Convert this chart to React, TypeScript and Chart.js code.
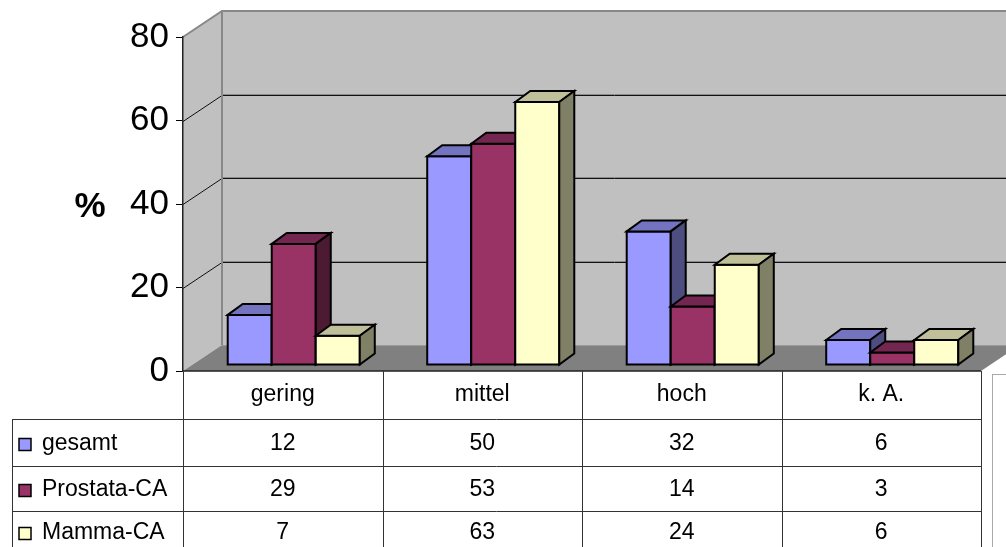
import React, { useEffect, useRef } from 'react';
import { Chart, registerables } from 'chart.js';

Chart.register(...registerables);

// ---- data ----
const categories = ['gering', 'mittel', 'hoch', 'k. A.'];
const seriesNames = ['gesamt', 'Prostata-CA', 'Mamma-CA'];
const gesamt = [12, 50, 32, 6];
const prostata = [29, 53, 14, 3];
const mamma = [7, 63, 24, 6];
const yTicks = [0, 20, 40, 60, 80];
const axisTitle = '%';

// ---- styles ----
const FRONT = ['#9999FF', '#993366', '#FFFFCC'];
const TOP = ['#7373BF', '#732650', '#BFBF99'];
const SIDE = ['#4D4D80', '#4D1A33', '#808066'];
const FONT = '"Liberation Sans", Arial, sans-serif';
const WALL = { dx: 39, dy: -26 };
const BAR_OFF = { dx: 11, dy: -6 };
const BAR_DEPTH = { dx: 15, dy: -11 };
const TABLE_LEFT = 12;
const ROW_BOUNDS = [419, 466, 511, 552];
const TABLE_BOTTOM = 560;

type P = [number, number];

function poly(ctx: CanvasRenderingContext2D, pts: P[]) {
  ctx.beginPath();
  ctx.moveTo(pts[0][0], pts[0][1]);
  for (let i = 1; i < pts.length; i++) ctx.lineTo(pts[i][0], pts[i][1]);
  ctx.closePath();
}

const threeDPlugin = {
  id: 'threeD',
  beforeDraw(chart: any) {
    const { ctx, chartArea: ca, scales } = chart;
    const y = scales.y;
    const x0 = ca.left;
    const x1 = ca.right;
    const yb = y.getPixelForValue(yTicks[0]);
    const yt = y.getPixelForValue(yTicks[yTicks.length - 1]);
    const { dx, dy } = WALL;
    ctx.save();
    // side wall
    ctx.fillStyle = '#C0C0C0';
    poly(ctx, [[x0, yb], [x0, yt], [x0 + dx, yt + dy], [x0 + dx, yb + dy]]);
    ctx.fill();
    // back wall
    ctx.fillRect(x0 + dx, yt + dy, x1 - x0, yb - yt);
    // floor
    ctx.fillStyle = '#808080';
    poly(ctx, [[x0, yb], [x1, yb], [x1 + dx, yb + dy], [x0 + dx, yb + dy]]);
    ctx.fill();
    // gridlines
    ctx.lineWidth = 1;
    for (const v of yTicks.slice(1, -1)) {
      const py = Math.round(y.getPixelForValue(v)) + 0.5;
      ctx.strokeStyle = '#8a8a8a';
      ctx.beginPath();
      ctx.moveTo(x0 + dx, py + dy - 1);
      ctx.lineTo(x1 + dx, py + dy - 1);
      ctx.stroke();
      ctx.strokeStyle = '#111';
      ctx.beginPath();
      ctx.moveTo(x0, py);
      ctx.lineTo(x0 + dx, py + dy);
      ctx.lineTo(x1 + dx, py + dy);
      ctx.stroke();
    }
    // wall borders
    ctx.strokeStyle = '#888';
    ctx.lineWidth = 2;
    ctx.beginPath();
    ctx.moveTo(x0, yt);
    ctx.lineTo(x0 + dx, yt + dy);
    ctx.lineTo(x1 + dx, yt + dy);
    ctx.moveTo(x0 + dx, yt + dy);
    ctx.lineTo(x0 + dx, yb + dy);
    ctx.stroke();
    ctx.strokeStyle = '#9a9a9a';
    ctx.lineWidth = 1;
    ctx.beginPath();
    ctx.moveTo(x0 + dx, yb + dy + 0.5);
    ctx.lineTo(x1 + dx, yb + dy + 0.5);
    ctx.stroke();
    ctx.restore();
  },
  beforeDatasetsDraw(chart: any) {
    const { ctx } = chart;
    const n = categories.length;
    ctx.save();
    ctx.lineWidth = 2;
    ctx.lineJoin = 'miter';
    ctx.strokeStyle = '#000';
    const { dx: ox, dy: oy } = BAR_OFF;
    const { dx, dy } = BAR_DEPTH;
    for (let i = 0; i < n; i++) {
      chart.data.datasets.forEach((_ds: any, di: number) => {
        const meta = chart.getDatasetMeta(di);
        const el = meta.data[i];
        if (!el) return;
        const p = el.getProps(['x', 'y', 'base', 'width'], true);
        const L = p.x - p.width / 2 + ox;
        const R = p.x + p.width / 2 + ox;
        const T = p.y + oy;
        const B = p.base + oy;
        // front
        ctx.fillStyle = FRONT[di];
        poly(ctx, [[L, B], [L, T], [R, T], [R, B]]);
        ctx.fill();
        ctx.stroke();
        // top
        ctx.fillStyle = TOP[di];
        poly(ctx, [[L, T], [L + dx, T + dy], [R + dx, T + dy], [R, T]]);
        ctx.fill();
        ctx.stroke();
        // side
        ctx.fillStyle = SIDE[di];
        poly(ctx, [[R, T], [R + dx, T + dy], [R + dx, B + dy], [R, B]]);
        ctx.fill();
        ctx.stroke();
      });
    }
    ctx.restore();
    return false;
  },
  afterDraw(chart: any) {
    const { ctx, chartArea: ca, scales } = chart;
    const x = scales.x;
    const y = scales.y;
    const yb = y.getPixelForValue(0);
    const catW = (ca.right - ca.left) / categories.length;
    ctx.save();
    // % title
    ctx.fillStyle = '#000';
    ctx.font = `bold 35px ${FONT}`;
    ctx.textAlign = 'center';
    ctx.textBaseline = 'middle';
    ctx.fillText(axisTitle, 90, y.getPixelForValue(40) + 3);

    // front axis line
    ctx.strokeStyle = '#222';
    ctx.lineWidth = 1.5;
    ctx.beginPath();
    ctx.moveTo(ca.left, yb);
    ctx.lineTo(ca.right, yb);
    ctx.stroke();

    // table grid
    ctx.strokeStyle = '#333';
    ctx.lineWidth = 1;
    ctx.beginPath();
    for (let i = 0; i <= categories.length; i++) {
      const vx = Math.round(ca.left + i * catW) + 0.5;
      ctx.moveTo(vx, yb);
      ctx.lineTo(vx, TABLE_BOTTOM);
    }
    ctx.moveTo(TABLE_LEFT + 0.5, ROW_BOUNDS[0]);
    ctx.lineTo(TABLE_LEFT + 0.5, TABLE_BOTTOM);
    for (let r = 0; r < ROW_BOUNDS.length - 1; r++) {
      const hy = ROW_BOUNDS[r] + 0.5;
      ctx.moveTo(TABLE_LEFT, hy);
      ctx.lineTo(ca.right, hy);
    }
    ctx.stroke();

    // header labels
    ctx.font = `23px ${FONT}`;
    ctx.fillStyle = '#000';
    ctx.textAlign = 'center';
    ctx.textBaseline = 'middle';
    const headY = (yb + ROW_BOUNDS[0]) / 2;
    categories.forEach((c, i) => {
      ctx.fillText(c, x.getPixelForValue(i), headY);
    });

    // rows
    chart.data.datasets.forEach((ds: any, di: number) => {
      const cy = (ROW_BOUNDS[di] + ROW_BOUNDS[di + 1]) / 2;
      ctx.textAlign = 'center';
      ds.data.forEach((v: number, i: number) => {
        ctx.fillText(String(v), x.getPixelForValue(i), cy + 1);
      });
      // legend key
      ctx.fillStyle = FRONT[di];
      ctx.fillRect(19, cy - 4, 12, 12);
      ctx.strokeStyle = '#000';
      ctx.lineWidth = 1.5;
      ctx.strokeRect(19, cy - 4, 12, 12);
      ctx.fillStyle = '#000';
      ctx.textAlign = 'left';
      ctx.fillText(seriesNames[di], 42, cy + 1);
    });

    // right box edge
    ctx.strokeStyle = '#aaa';
    ctx.lineWidth = 1;
    ctx.strokeRect(992.5, 374.5, 40, 200);
    ctx.restore();
  },
};

export default function App() {
  const ref = useRef<HTMLCanvasElement | null>(null);
  useEffect(() => {
    document.body.style.margin = '0';
    const canvas = ref.current;
    if (!canvas) return;
    const chart = new Chart(canvas, {
      type: 'bar',
      data: {
        labels: categories,
        datasets: [
          { label: seriesNames[0], data: gesamt, backgroundColor: FRONT[0] },
          { label: seriesNames[1], data: prostata, backgroundColor: FRONT[1] },
          { label: seriesNames[2], data: mamma, backgroundColor: FRONT[2] },
        ],
      },
      options: {
        responsive: false,
        animation: false,
        devicePixelRatio: 1,
        layout: { padding: { left: 0, top: 37, right: 25, bottom: 176 } },
        datasets: { bar: { barPercentage: 1, categoryPercentage: 0.662 } },
        plugins: { legend: { display: false }, tooltip: { enabled: false }, title: { display: false } },
        scales: {
          x: { display: false },
          y: {
            min: yTicks[0],
            max: yTicks[yTicks.length - 1],
            afterBuildTicks: (s: any) => {
              s.ticks = yTicks.map((v) => ({ value: v }));
            },
            afterFit: (s: any) => {
              s.width = 183;
            },
            ticks: { font: { family: FONT, size: 35 }, color: '#000', padding: 7 },
            grid: { drawOnChartArea: false, drawTicks: true, tickLength: 7, tickColor: '#000', tickWidth: 1 },
            border: { display: true, color: '#222', width: 1.5 },
          },
        },
      },
      plugins: [threeDPlugin],
    } as any);
    return () => chart.destroy();
  }, []);
  return <canvas ref={ref} width={1006} height={547} style={{ display: 'block' }} />;
}
